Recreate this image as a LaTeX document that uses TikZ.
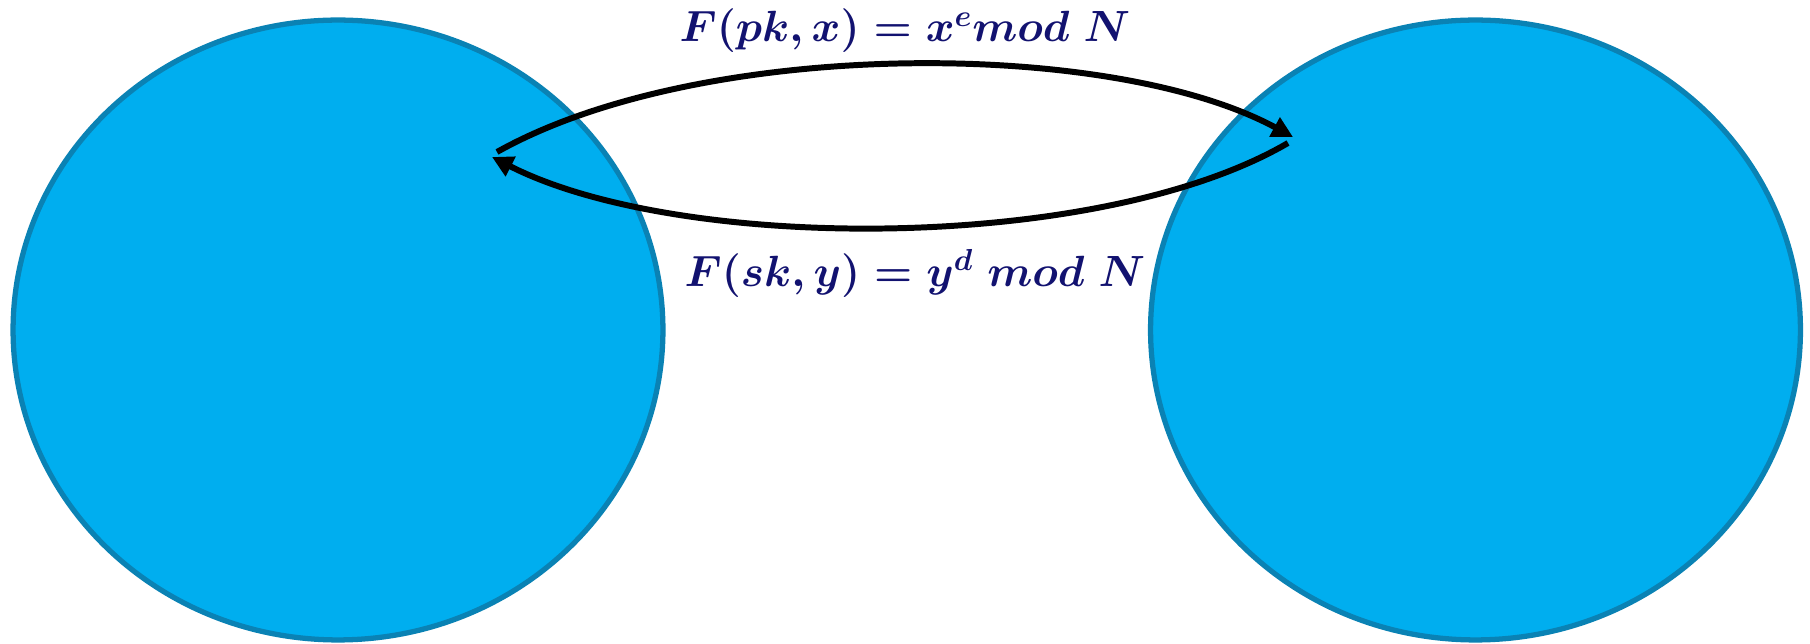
\documentclass[tikz,border=0pt]{standalone}
\usepackage{amsmath}
\usepackage{tikz}
\usetikzlibrary{positioning,arrows.meta,shapes.geometric}
\definecolor{setblue}{RGB}{0,174,239}
\definecolor{setedge}{RGB}{10,130,180}
\definecolor{mapnavy}{RGB}{18,18,112}

\begin{document}
\begin{tikzpicture}[x=0.02cm,y=-0.02cm,
  every node/.style={font=\fontsize{26.5}{31}\selectfont\boldmath},
  setbox/.style={ellipse,draw=setedge,fill=setblue,line width=3pt,minimum width=13cm,minimum height=12.4cm,inner sep=0pt},
  formula/.style={text=mapnavy,inner sep=1pt},
  arrow/.style={-{Triangle[length=4.2mm,width=4.2mm]},line width=3.4pt,black}
]
  \useasboundingbox (0,0) rectangle (1810,644);
  \node[setbox] (dom) at (338,330) {};
  \node[setbox] (rng) at (1475.5,330) {};
  \coordinate (a1) at (497,152);
  \coordinate (a2) at (1293,137);
  \coordinate (b1) at (1288,143);
  \coordinate (b2) at (492,157);
  \draw[arrow] (a1) .. controls (700,38) and (1110,38) .. (a2);
  \draw[arrow] (b1) .. controls (1100,253) and (680,253) .. (b2);
  \node[formula] (fpk) at (905,31) {$F(pk,x) = x^{e}mod\ N$};
  \node[formula] (fsk) at (915,273) {$F(sk,y) = y^{d}\ mod\ N$};
\end{tikzpicture}
\end{document}
